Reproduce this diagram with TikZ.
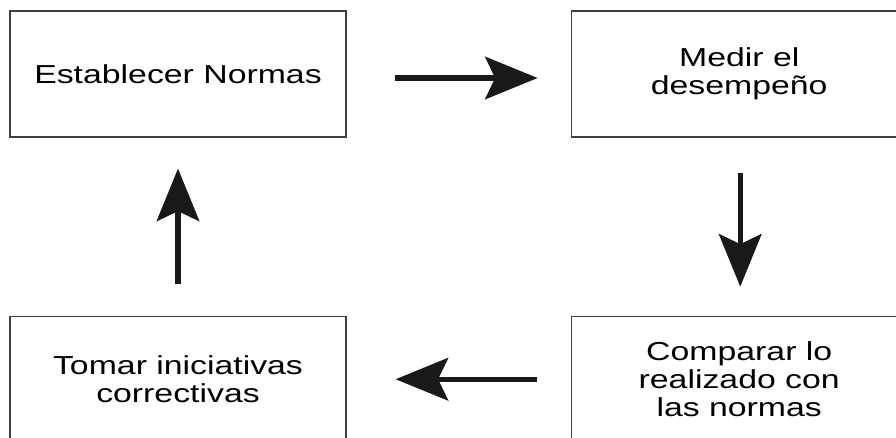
\documentclass[tikz,border=0pt]{standalone}
\usepackage{fontspec}
\setmainfont{Liberation Sans}[FakeStretch=1.3]
\usepackage{tikz}
\usetikzlibrary{positioning}
\usetikzlibrary{arrows.meta}
\tikzset{
    node distance=4.48cm, % Gap between the two columns of boxes
    stagebox/.style={ % Sets the properties for each stage of the cycle
        draw=black!75,
        line width=0.7pt,
        minimum width=6.72cm,
        minimum height=2.52cm,
        align=center,
        font=\fontsize{14.8}{16.1}\selectfont
    },
    flow/.style={ % Sets the properties for each arrow
        draw=black!90,
        line width=2.9pt,
        -{Stealth[length=1.05cm,width=0.85cm,inset=0.2cm]}
    }
}

\begin{document}
\begin{tikzpicture}
            \useasboundingbox (0,0) rectangle (17.92,-8.74);
            \clip (0,0) rectangle (17.92,-8.74);
            \node[stagebox] (normas) at (3.56,-1.48) {Establecer Normas};
            \node[stagebox, right=of normas] (medir) {Medir el\\desempeño};
            \node[stagebox, below=3.56cm of medir] (comparar) {Comparar lo\\realizado con\\las normas};
            \node[stagebox, below=3.56cm of normas] (tomar) {Tomar iniciativas\\correctivas};

            \draw[flow, shorten <=0.96cm, shorten >=0.66cm] ([yshift=-0.08cm]normas.east) -- ([yshift=-0.08cm]medir.west);
            \draw[flow, shorten <=0.7cm, shorten >=0.58cm] ([xshift=0.02cm]medir.south) -- ([xshift=0.02cm]comparar.north);
            \draw[flow, shorten <=0.68cm, shorten >=0.98cm] (comparar.west) -- (tomar.east);
            \draw[flow, shorten <=0.64cm, shorten >=0.62cm] (tomar.north) -- (normas.south);
        \end{tikzpicture}
\end{document}
